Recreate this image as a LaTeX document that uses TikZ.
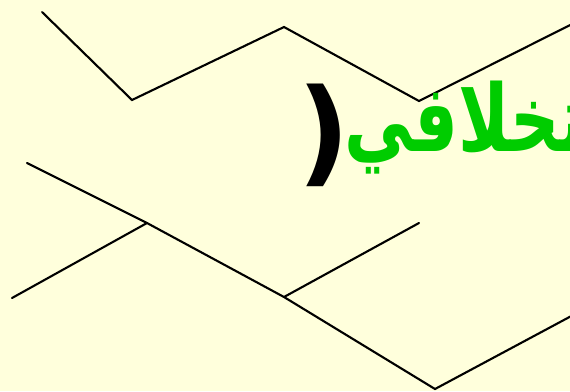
\documentclass[tikz,border=0pt]{standalone}
\usepackage{fontspec}
\TeXXeTstate=1
\newfontfamily\arabicfont[Script=Arabic]{DejaVu Sans}
\definecolor{paper}{HTML}{FFFFDC}
\definecolor{leafgreen}{HTML}{00CC00}
\tikzset{
  branch/.style={draw=black, line width=1.5pt, line cap=round},
  titletext/.style={font=\arabicfont\bfseries\fontsize{66}{70}\selectfont,
    text=leafgreen, inner sep=0pt, anchor=base west},
  parentext/.style={font=\arabicfont\bfseries\fontsize{82}{86}\selectfont,
    text=black, inner sep=0pt, anchor=base east}
}
\begin{document}
\begin{tikzpicture}[x=0.025cm, y=-0.025cm]
  % page
  \fill[paper] (0,0) rectangle (570,391);
  \useasboundingbox (0,0) rectangle (570,391);
  \clip (0,0) rectangle (570,391);

  % upper zigzag
  \coordinate (u1) at (42,12);
  \coordinate (u2) at (132,100);
  \coordinate (u3) at (284,27);
  \coordinate (u4) at (419,101);
  \coordinate (u5) at (590,15);

  % lower tree
  \coordinate (l1) at (27,163);
  \coordinate (l2) at (147,223);
  \coordinate (l3) at (284,297);
  \coordinate (l4) at (435,389);
  \coordinate (l5) at (590,306);
  \coordinate (l6) at (12,298);
  \coordinate (l7) at (419,223);

  \draw[branch] (u1) -- (u2) -- (u3) -- (u4) -- (u5);
  \draw[branch] (l1) -- (l2) -- (l3) -- (l4) -- (l5);
  \draw[branch] (l6) -- (l2);
  \draw[branch] (l3) -- (l7);

  % title
  \node[parentext] (paren) at (350,171) {(};
  \node[titletext] (title) at (344,151)
    {\scalebox{0.74}[1]{\beginR تخلافي\endR}};
\end{tikzpicture}
\end{document}
